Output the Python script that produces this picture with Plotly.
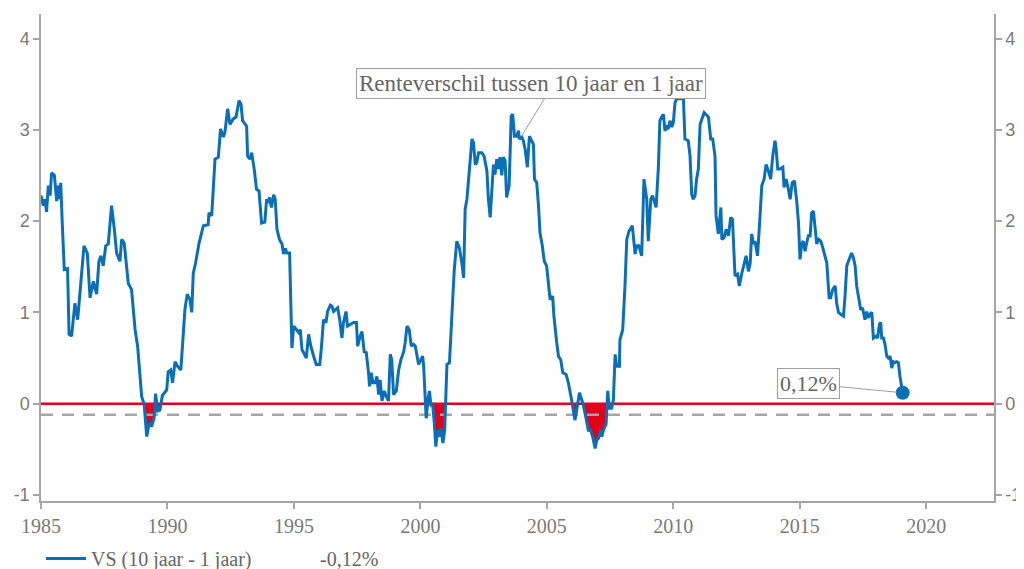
import plotly.graph_objects as go

# ---- data (decimal year, spread 10y - 1y, %) ----
years = [
    1985.00, 1985.09, 1985.16, 1985.22, 1985.29, 1985.36, 1985.42, 1985.53, 1985.62, 1985.69,
    1985.72, 1985.78, 1985.84, 1985.92, 1986.05, 1986.11, 1986.21, 1986.34, 1986.45, 1986.54,
    1986.70, 1986.83, 1986.94, 1987.07, 1987.20, 1987.29, 1987.37, 1987.46, 1987.56, 1987.66,
    1987.79, 1987.90, 1987.99, 1988.12, 1988.19, 1988.29, 1988.45, 1988.58, 1988.72, 1988.82,
    1988.98, 1989.08, 1989.18, 1989.28, 1989.37, 1989.47, 1989.53, 1989.61, 1989.70, 1989.80,
    1989.97, 1990.03, 1990.13, 1990.20, 1990.30, 1990.40, 1990.53, 1990.69, 1990.78, 1990.89,
    1990.96, 1991.02, 1991.11, 1991.25, 1991.35, 1991.42, 1991.61, 1991.64, 1991.75, 1991.88,
    1992.01, 1992.10, 1992.21, 1992.27, 1992.38, 1992.47, 1992.60, 1992.71, 1992.83, 1992.91,
    1992.97, 1993.13, 1993.17, 1993.26, 1993.33, 1993.43, 1993.52, 1993.62, 1993.72, 1993.85,
    1993.92, 1993.96, 1994.04, 1994.11, 1994.20, 1994.26, 1994.33, 1994.43, 1994.53, 1994.59,
    1994.66, 1994.72, 1994.83, 1994.92, 1994.99, 1995.09, 1995.19, 1995.25, 1995.32, 1995.38,
    1995.49, 1995.58, 1995.67, 1995.78, 1995.88, 1996.02, 1996.08, 1996.17, 1996.27, 1996.33,
    1996.44, 1996.50, 1996.57, 1996.64, 1996.73, 1996.81, 1996.90, 1996.96, 1997.06, 1997.12,
    1997.23, 1997.36, 1997.47, 1997.52, 1997.62, 1997.69, 1997.78, 1997.86, 1997.95, 1997.99,
    1998.06, 1998.12, 1998.22, 1998.28, 1998.35, 1998.41, 1998.48, 1998.57, 1998.65, 1998.74,
    1998.81, 1998.87, 1998.94, 1999.05, 1999.14, 1999.23, 1999.34, 1999.40, 1999.47, 1999.56,
    1999.64, 1999.73, 1999.80, 1999.86, 1999.93, 2000.02, 2000.09, 2000.13, 2000.19, 2000.23,
    2000.30, 2000.36, 2000.42, 2000.48, 2000.55, 2000.61, 2000.68, 2000.75, 2000.81, 2000.89,
    2000.96, 2001.05, 2001.15, 2001.25, 2001.34, 2001.44, 2001.54, 2001.64, 2001.71, 2001.77,
    2001.84, 2001.94, 2002.04, 2002.10, 2002.17, 2002.23, 2002.30, 2002.43, 2002.52, 2002.63,
    2002.69, 2002.76, 2002.82, 2002.89, 2002.95, 2003.02, 2003.08, 2003.15, 2003.22, 2003.28,
    2003.35, 2003.41, 2003.51, 2003.59, 2003.65, 2003.72, 2003.81, 2003.88, 2003.91, 2004.01,
    2004.07, 2004.14, 2004.23, 2004.31, 2004.40, 2004.47, 2004.51, 2004.60, 2004.67, 2004.73,
    2004.82, 2004.90, 2004.99, 2005.06, 2005.13, 2005.23, 2005.28, 2005.39, 2005.46, 2005.55,
    2005.63, 2005.76, 2005.85, 2005.98, 2006.11, 2006.18, 2006.29, 2006.38, 2006.44, 2006.55,
    2006.64, 2006.73, 2006.81, 2006.91, 2006.97, 2007.04, 2007.13, 2007.17, 2007.26, 2007.34,
    2007.41, 2007.47, 2007.56, 2007.63, 2007.70, 2007.76, 2007.87, 2007.89, 2008.00, 2008.09,
    2008.16, 2008.25, 2008.38, 2008.49, 2008.55, 2008.64, 2008.75, 2008.84, 2008.95, 2009.01,
    2009.11, 2009.18, 2009.32, 2009.41, 2009.47, 2009.54, 2009.61, 2009.67, 2009.74, 2009.80,
    2009.87, 2009.94, 2010.00, 2010.07, 2010.13, 2010.33, 2010.40, 2010.46, 2010.59, 2010.66,
    2010.73, 2010.79, 2010.86, 2010.92, 2010.99, 2011.06, 2011.22, 2011.39, 2011.48, 2011.56,
    2011.65, 2011.69, 2011.78, 2011.88, 2011.92, 2012.01, 2012.09, 2012.18, 2012.27, 2012.34,
    2012.44, 2012.54, 2012.61, 2012.71, 2012.81, 2012.88, 2012.97, 2013.04, 2013.10, 2013.17,
    2013.23, 2013.33, 2013.43, 2013.50, 2013.59, 2013.67, 2013.76, 2013.85, 2013.93, 2014.02,
    2014.06, 2014.13, 2014.22, 2014.33, 2014.38, 2014.46, 2014.55, 2014.62, 2014.70, 2014.79,
    2014.88, 2014.95, 2015.01, 2015.08, 2015.14, 2015.21, 2015.25, 2015.34, 2015.41, 2015.47,
    2015.54, 2015.61, 2015.67, 2015.75, 2015.83, 2015.91, 2016.00, 2016.07, 2016.16, 2016.22,
    2016.30, 2016.40, 2016.46, 2016.53, 2016.62, 2016.73, 2016.79, 2016.86, 2016.95, 2017.05,
    2017.12, 2017.19, 2017.25, 2017.32, 2017.41, 2017.48, 2017.52, 2017.58, 2017.65, 2017.71,
    2017.78, 2017.85, 2017.91, 2018.02, 2018.08, 2018.15, 2018.20, 2018.24, 2018.31, 2018.37,
    2018.44, 2018.50, 2018.57, 2018.64, 2018.70, 2018.77, 2018.83, 2018.90, 2018.96, 2019.07,
]
spread = [
    2.28, 2.17, 2.24, 2.10, 2.39, 2.28, 2.53, 2.50, 2.22, 2.39,
    2.24, 2.42, 1.98, 1.47, 1.48, 0.76, 0.74, 1.10, 0.92, 1.21,
    1.73, 1.65, 1.16, 1.34, 1.20, 1.56, 1.62, 1.51, 1.73, 1.75,
    2.17, 1.91, 1.65, 1.56, 1.80, 1.76, 1.32, 1.25, 0.81, 0.63,
    0.08, -0.01, -0.36, -0.21, -0.25, -0.16, 0.11, -0.08, -0.07, 0.09,
    0.15, 0.35, 0.37, 0.23, 0.46, 0.41, 0.37, 1.03, 1.20, 1.14,
    1.00, 1.43, 1.54, 1.76, 1.86, 1.95, 1.96, 2.09, 2.06, 2.68,
    2.70, 3.01, 2.92, 2.97, 3.23, 3.06, 3.12, 3.14, 3.32, 3.28,
    3.10, 3.04, 2.71, 2.68, 2.75, 2.57, 2.35, 2.33, 1.98, 1.99,
    2.24, 2.20, 2.26, 2.15, 2.29, 2.24, 1.91, 1.80, 1.75, 1.64,
    1.70, 1.65, 1.65, 0.61, 0.85, 0.81, 0.78, 0.81, 0.59, 0.56,
    0.50, 0.76, 0.63, 0.52, 0.43, 0.43, 0.59, 0.92, 0.89, 1.01,
    1.08, 1.07, 1.01, 1.03, 1.05, 0.92, 0.72, 0.89, 1.01, 0.85,
    0.87, 0.89, 0.89, 0.63, 0.74, 0.79, 0.57, 0.56, 0.34, 0.19,
    0.34, 0.23, 0.23, 0.30, 0.10, 0.26, 0.03, 0.14, 0.08, 0.03,
    0.54, 0.48, 0.10, 0.14, 0.37, 0.48, 0.57, 0.67, 0.85, 0.81,
    0.63, 0.65, 0.63, 0.52, 0.43, 0.48, 0.52, 0.41, 0.12, -0.16,
    0.04, 0.14, -0.03, 0.01, -0.21, -0.47, -0.29, -0.36, -0.27, -0.43,
    -0.29, 0.43, 0.45, 0.96, 1.47, 1.78, 1.71, 1.54, 1.38, 2.13,
    2.24, 2.57, 2.90, 2.86, 2.62, 2.64, 2.75, 2.75, 2.71, 2.55,
    2.24, 2.04, 2.35, 2.62, 2.51, 2.68, 2.57, 2.70, 2.50, 2.70,
    2.66, 2.26, 2.39, 3.15, 3.17, 2.93, 2.93, 2.99, 2.90, 2.92,
    2.88, 2.79, 2.59, 2.93, 2.88, 2.84, 2.46, 2.42, 2.17, 1.87,
    1.73, 1.56, 1.51, 1.32, 1.14, 1.18, 0.96, 0.67, 0.52, 0.48,
    0.34, 0.32, 0.23, 0.04, -0.18, -0.07, 0.12, 0.04, -0.01, -0.16,
    -0.29, -0.29, -0.36, -0.49, -0.40, -0.38, -0.29, -0.36, -0.27, -0.23,
    0.14, -0.05, -0.05, 0.04, 0.54, 0.41, 0.41, 0.70, 0.81, 1.29,
    1.80, 1.89, 1.95, 1.64, 1.73, 1.73, 1.62, 2.46, 2.24, 1.78,
    2.24, 2.28, 2.15, 2.59, 3.10, 3.14, 3.17, 2.99, 3.03, 3.01,
    3.10, 3.03, 3.08, 3.30, 3.34, 3.34, 3.34, 2.90, 2.88, 2.72,
    2.29, 2.24, 2.28, 2.46, 2.57, 3.06, 3.19, 3.14, 2.90, 2.90,
    2.71, 2.06, 1.86, 2.15, 1.80, 1.82, 1.91, 1.84, 2.04, 2.02,
    1.40, 1.42, 1.29, 1.43, 1.54, 1.62, 1.45, 1.54, 1.86, 1.75,
    1.78, 1.62, 2.06, 2.39, 2.46, 2.62, 2.55, 2.46, 2.71, 2.88,
    2.81, 2.57, 2.57, 2.59, 2.37, 2.46, 2.35, 2.24, 2.42, 2.44,
    2.22, 1.98, 1.58, 1.76, 1.78, 1.67, 1.73, 1.84, 1.84, 2.09,
    2.11, 1.95, 1.75, 1.80, 1.78, 1.71, 1.62, 1.54, 1.16, 1.16,
    1.25, 1.29, 1.10, 1.00, 0.98, 0.96, 1.18, 1.51, 1.58, 1.65,
    1.60, 1.51, 1.29, 1.18, 1.03, 1.05, 1.00, 0.92, 1.01, 0.94,
    0.98, 1.00, 0.72, 0.74, 0.72, 0.87, 0.89, 0.72, 0.72, 0.65,
    0.52, 0.50, 0.52, 0.39, 0.46, 0.45, 0.46, 0.45, 0.30, 0.12,
]
reference_level = -0.12
last_label = "0,12%"
series_name = "VS (10 jaar - 1 jaar)"
reference_name = "-0,12%"
title_note = "Renteverschil tussen 10 jaar en 1 jaar"
x_ticks = [1985, 1990, 1995, 2000, 2005, 2010, 2015, 2020]
y_ticks = [-1, 0, 1, 2, 3, 4]
x_range = [1985.0, 2022.68]
y_range = [-1.066, 4.269]

BLUE = "#0a6fb7"
RED = "#e2001a"
GREY = "#a6a6a6"
TXT = "#7a7a7a"
SERIF = "Liberation Serif"
SANS = "Liberation Sans"

# red area below zero (with exact zero crossings)
fx, fy = [], []
for i in range(len(years)):
    if i > 0 and ((spread[i - 1] < 0) != (spread[i] < 0)):
        t = spread[i - 1] / (spread[i - 1] - spread[i])
        fx.append(years[i - 1] + t * (years[i] - years[i - 1]))
        fy.append(0.0)
    fx.append(years[i])
    fy.append(min(spread[i], 0.0))

fig = go.Figure()
fig.add_trace(go.Scatter(x=fx, y=fy, mode="lines", fill="tozeroy",
                         fillcolor=RED, line=dict(width=0, color=RED),
                         showlegend=False, hoverinfo="skip"))
fig.add_trace(go.Scatter(x=x_range, y=[0, 0], mode="lines",
                         line=dict(color=RED, width=2.5), showlegend=False))
fig.add_trace(go.Scatter(x=x_range, y=[reference_level, reference_level], mode="lines",
                         line=dict(color=GREY, width=2.5, dash="12px,9px"),
                         showlegend=False))
fig.add_trace(go.Scatter(x=years, y=spread, mode="lines", name=series_name,
                         line=dict(color=BLUE, width=3)))
fig.add_trace(go.Scatter(x=[None], y=[None], mode="lines", name=reference_name,
                         line=dict(color="rgba(0,0,0,0)", width=2)))
fig.add_trace(go.Scatter(x=[years[-1]], y=[spread[-1]], mode="markers",
                         marker=dict(color=BLUE, size=14), showlegend=False))
# invisible trace for right axis
fig.add_trace(go.Scatter(x=[years[0]], y=[spread[0]], yaxis="y2", mode="markers",
                         marker=dict(opacity=0), showlegend=False, hoverinfo="skip"))

# annotation with leader line
fig.add_annotation(x=0.514, y=0.858, xref="paper", yref="paper", text=title_note,
                   showarrow=False, font=dict(family=SERIF, size=23, color="#666666"),
                   bordercolor="#a0a0a0", borderwidth=1, borderpad=2, bgcolor="white",
                   xanchor="center", yanchor="middle")
fig.add_shape(type="line", xref="x", yref="y", x0=2004.97, y0=3.37, x1=2004.0, y1=2.93,
              line=dict(color="#a0a0a0", width=1))
fig.add_annotation(x=years[-1], y=spread[-1], text=last_label, showarrow=True,
                   arrowhead=0, arrowwidth=1, arrowcolor="#a0a0a0", ax=-94, ay=-9,
                   standoff=6,
                   font=dict(family=SERIF, size=22, color="#666666"),
                   bordercolor="#a0a0a0", borderwidth=1, borderpad=2, bgcolor="white")

axis_common = dict(showline=True, linecolor=GREY, linewidth=1.5, ticks="outside",
                   tickcolor=GREY, ticklen=6, tickwidth=1.5, showgrid=False,
                   zeroline=False, automargin=False)

ytext = [str(v) for v in y_ticks]

# page body has an 8px margin: figure is offset by (8, 8)
fig.update_layout(
    width=1016, height=561,
    margin=dict(l=33, r=30, t=6, b=68, autoexpand=False),
    paper_bgcolor="white", plot_bgcolor="white",
    xaxis=dict(range=x_range, tickvals=x_ticks, ticktext=[str(v) for v in x_ticks],
               tickfont=dict(family=SERIF, size=20, color=TXT), **axis_common),
    yaxis=dict(range=y_range, tickvals=y_ticks, ticktext=ytext,
               tickfont=dict(family=SANS, size=18, color=TXT), **axis_common),
    yaxis2=dict(range=y_range, tickvals=y_ticks, overlaying="y", side="right", anchor="x",
                ticktext=ytext,
                tickfont=dict(family=SANS, size=18, color=TXT), **axis_common),
    legend=dict(orientation="h", x=0.0, xanchor="left", y=-0.078, yanchor="top",
                font=dict(family=SERIF, size=20, color="#666666"),
                itemwidth=40, entrywidth=174, bgcolor="rgba(0,0,0,0)"),
    showlegend=True,
)

fig.write_html("out.html")
